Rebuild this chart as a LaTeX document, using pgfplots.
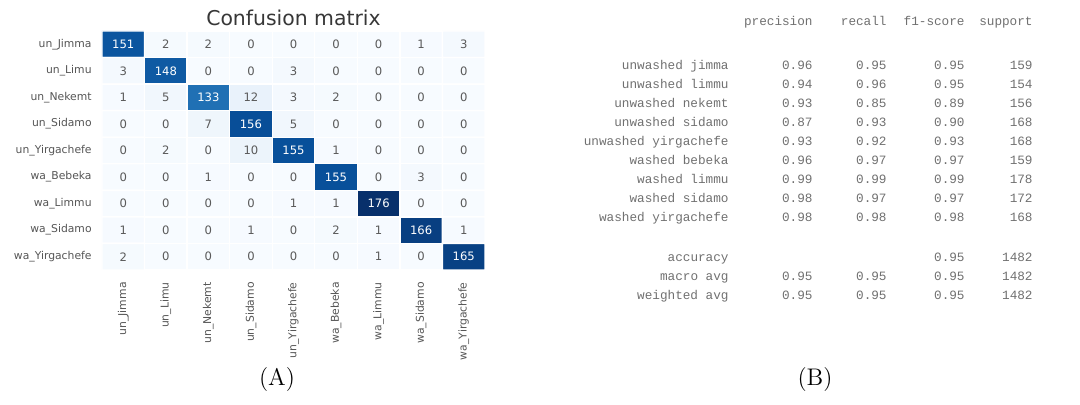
\documentclass[border=0pt]{standalone}
\usepackage{pgfplots}
\pgfplotsset{compat=1.18}
\usepackage{pgfplotstable}
\usepackage{fontspec}
\newfontfamily\dejavu{DejaVu Sans}
\newfontfamily\mono{Liberation Mono}

\definecolor{labelgray}{RGB}{85,85,85}
\definecolor{cellgray}{RGB}{90,90,90}
\definecolor{reportgray}{RGB}{112,112,112}
\definecolor{titlegray}{RGB}{55,55,55}

% confusion matrix: x = predicted class, y = true class, c = count
\pgfplotstableread{
x y c
0 0 151
1 0 2
2 0 2
3 0 0
4 0 0
5 0 0
6 0 0
7 0 1
8 0 3
0 1 3
1 1 148
2 1 0
3 1 0
4 1 3
5 1 0
6 1 0
7 1 0
8 1 0
0 2 1
1 2 5
2 2 133
3 2 12
4 2 3
5 2 2
6 2 0
7 2 0
8 2 0
0 3 0
1 3 0
2 3 7
3 3 156
4 3 5
5 3 0
6 3 0
7 3 0
8 3 0
0 4 0
1 4 2
2 4 0
3 4 10
4 4 155
5 4 1
6 4 0
7 4 0
8 4 0
0 5 0
1 5 0
2 5 1
3 5 0
4 5 0
5 5 155
6 5 0
7 5 3
8 5 0
0 6 0
1 6 0
2 6 0
3 6 0
4 6 1
5 6 1
6 6 176
7 6 0
8 6 0
0 7 1
1 7 0
2 7 0
3 7 1
4 7 0
5 7 2
6 7 1
7 7 166
8 7 1
0 8 2
1 8 0
2 8 0
3 8 0
4 8 0
5 8 0
6 8 1
7 8 0
8 8 165
}\confusion

% classification report; row = vertical position from the top
\pgfplotstableread[col sep=comma]{
row,name,prec,rec,f1,sup
63,unwashed jimma,0.96,0.95,0.95,159
82,unwashed limmu,0.94,0.96,0.95,154
101,unwashed nekemt,0.93,0.85,0.89,156
120,unwashed sidamo,0.87,0.93,0.90,168
139,unwashed yirgachefe,0.93,0.92,0.93,168
158,washed bebeka,0.96,0.97,0.97,159
177,washed limmu,0.99,0.99,0.99,178
196,washed sidamo,0.98,0.97,0.97,172
215,washed yirgachefe,0.98,0.98,0.98,168
274,macro avg,0.95,0.95,0.95,1482
293,weighted avg,0.95,0.95,0.95,1482
}\report

\pgfplotstableread[col sep=comma]{
row,name,f1,sup
255,accuracy,0.95,1482
}\accuracy

\pgfplotsset{
  colormap={blues}{
    rgb255=(247,251,255) rgb255=(222,235,247) rgb255=(198,219,239)
    rgb255=(158,202,225) rgb255=(107,174,214) rgb255=(66,146,198)
    rgb255=(33,113,181) rgb255=(8,81,156) rgb255=(8,48,107)
  },
}

\begin{document}
\begin{tikzpicture}[x=0.5pt,y=0.5pt]
\useasboundingbox (0,0) rectangle (1080,405);
\coordinate (origin) at (0,0);
\coordinate (hm) at (102,374);

% heatmap
\begin{axis}[
  at={(hm)}, anchor=north west,
  scale only axis, width=191.5pt, height=119.5pt,
  xmin=-0.5, xmax=8.5, ymin=-0.5, ymax=8.5,
  y dir=reverse,
  axis line style={draw=none},
  major tick length=0pt,
  colormap name=blues,
  point meta min=0, point meta max=176,
  /pgf/number format/assume math mode=true,
  xtick={0,...,8}, ytick={0,...,8},
  xticklabels={un\_Jimma,un\_Limu,un\_Nekemt,un\_Sidamo,un\_Yirgachefe,wa\_Bebeka,wa\_Limmu,wa\_Sidamo,wa\_Yirgachefe},
  yticklabels={un\_Jimma,un\_Limu,un\_Nekemt,un\_Sidamo,un\_Yirgachefe,wa\_Bebeka,wa\_Limmu,wa\_Sidamo,wa\_Yirgachefe},
  ticklabel style={font=\dejavu\fontsize{5.4}{6}\selectfont, text=labelgray, inner sep=0pt},
  xticklabel style={rotate=90, anchor=east},
  yticklabel style={anchor=east},
  xticklabel shift=6pt,
  yticklabel shift=5pt,
  title={Confusion matrix},
  title style={at={(0.5,1)}, anchor=base, yshift=-3.5pt, inner sep=0pt,
    font=\dejavu\fontsize{10.2}{12}\selectfont, text=titlegray},
  clip=false,
]
\addplot[matrix plot*, mesh/cols=9, point meta=explicit, draw=white, line width=0.7pt]
  table[x=x, y=y, meta=c] {\confusion};
% counts written in the cells
\addplot[draw=none, point meta=explicit, nodes near coords,
  restrict expr to domain={\thisrow{c}}{-1:100},
  nodes near coords style={anchor=center, inner sep=0pt,
    font=\dejavu\fontsize{5.8}{6}\selectfont, text=cellgray}]
  table[x=x, y=y, meta=c] {\confusion};
\addplot[draw=none, point meta=explicit, nodes near coords,
  restrict expr to domain={\thisrow{c}}{100:1000},
  nodes near coords style={anchor=center, inner sep=0pt,
    font=\dejavu\fontsize{5.8}{6}\selectfont, text=white}]
  table[x=x, y=y, meta=c] {\confusion};
\end{axis}

% classification report, in pixel-like units measured from the top
\begin{axis}[
  at={(origin)}, anchor=south west,
  scale only axis, width=540pt, height=202.5pt,
  xmin=0, xmax=1080, ymin=0, ymax=405, y dir=reverse,
  hide axis, clip=false,
  point meta=explicit symbolic,
  nodes near coords,
  nodes near coords style={anchor=east, inner sep=0pt, text height=0.62em, text depth=0pt,
    font=\mono\fontsize{6.35}{7}\selectfont, text=reportgray},
]
\addplot[draw=none] table[x expr=729, y=row, meta=name] {\report};
\addplot[draw=none] table[x expr=813, y=row, meta=prec] {\report};
\addplot[draw=none] table[x expr=887, y=row, meta=rec]  {\report};
\addplot[draw=none] table[x expr=965, y=row, meta=f1]   {\report};
\addplot[draw=none] table[x expr=1033, y=row, meta=sup] {\report};
\addplot[draw=none] table[x expr=729, y=row, meta=name] {\accuracy};
\addplot[draw=none] table[x expr=965, y=row, meta=f1]   {\accuracy};
\addplot[draw=none] table[x expr=1033, y=row, meta=sup] {\accuracy};

\begin{scope}[every node/.style={anchor=east, inner sep=0pt, text height=0.62em, text depth=0pt,
    font=\mono\fontsize{6.35}{7}\selectfont, text=reportgray}]
\node at (axis cs:813,19) {precision};
\node at (axis cs:887,19) {recall};
\node at (axis cs:965,19) {f1-score};
\node at (axis cs:1033,19) {support};
\end{scope}

\node[font=\fontsize{12}{14}\selectfont] at (axis cs:277,380) {(A)};
\node[font=\fontsize{12}{14}\selectfont] at (axis cs:815,380) {(B)};
\end{axis}
\end{tikzpicture}
\end{document}
